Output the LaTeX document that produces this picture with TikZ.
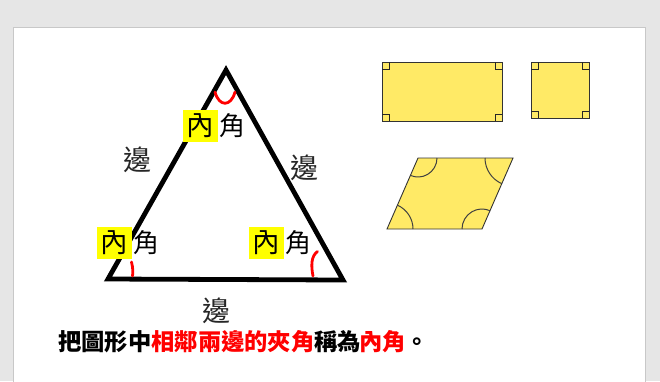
\documentclass[tikz,border=0pt]{standalone}
\usepackage{fontspec}
\newfontfamily\cjk{Noto Sans CJK TC}
\definecolor{pagegray}{RGB}{230,230,230}
\definecolor{pageline}{RGB}{200,200,200}
\definecolor{shapeyellow}{RGB}{255,234,102}
\definecolor{hlyellow}{RGB}{255,255,0}
\begin{document}
\begin{tikzpicture}[x=1pt,y=-1pt,
  hl/.style={fill=hlyellow,inner sep=0pt,minimum width=35pt,minimum height=32pt,font=\cjk\fontsize{27.5}{27.5}\selectfont},
  jiao/.style={anchor=west,inner sep=0pt,font=\cjk\fontsize{26}{26}\selectfont},
  bian/.style={inner sep=0pt,font=\cjk\fontsize{28}{28}\selectfont,text=black!85},
  tri/.style={line width=4.8pt,line join=miter},
  redarc/.style={red,line width=2.8pt,line cap=round},
  yshape/.style={fill=shapeyellow,draw=black!80,line width=0.9pt},
  rmark/.style={draw=black!85,line width=0.9pt},
  pararc/.style={draw=black!75,line width=1pt}]
\useasboundingbox (0,0) rectangle (660,381);
\fill[pagegray] (0,0) rectangle (660,381);
\filldraw[fill=white,draw=pageline,line width=1pt] (13.5,27.5) rectangle (645.5,390);
% triangle
\coordinate (A) at (226,70);
\coordinate (B) at (108,279);
\coordinate (C) at (343,280);
\draw[tri] (A) -- (B) -- (C) -- cycle;
% red angle marks
\draw[redarc] (215,92) .. controls (219,107) and (231,107) .. (235,92);
\draw[redarc] (131.5,262) .. controls (133,268) and (133,272) .. (132.5,276);
\draw[redarc] (317.5,251.5) .. controls (311,256) and (311,266) .. (313,276);
% labels
\node[hl] (h1) at (200.5,125.5) {內};
\node[jiao] (j1) at ([xshift=1.5pt]h1.east) {角};
\node[hl] (h2) at (114.5,242.5) {內};
\node[jiao] (j2) at ([xshift=1.5pt]h2.east) {角};
\node[hl] (h3) at (266.5,242.5) {內};
\node[jiao] (j3) at ([xshift=1.5pt]h3.east) {角};
\node[bian] (e1) at (137,160) {邊};
\node[bian] (e2) at (304,168) {邊};
\node[bian] (e3) at (216,311) {邊};
% caption
\node[anchor=west,inner sep=0pt,font=\cjk\bfseries\fontsize{23.3}{23.3}\selectfont] (cap) at (58,342)
  {把圖形中{\color{red}相鄰兩邊的夾角}稱為\kern-2pt{\color{red}內角}。};
% rectangle
\filldraw[yshape] (382,62) rectangle (502,121);
\draw[rmark] (382,69) -- (389,69) -- (389,62);
\draw[rmark] (502,69) -- (495,69) -- (495,62);
\draw[rmark] (382,114) -- (389,114) -- (389,121);
\draw[rmark] (502,114) -- (495,114) -- (495,121);
% square
\filldraw[yshape] (531,62) rectangle (589,118);
\draw[rmark] (531,69) -- (538,69) -- (538,62);
\draw[rmark] (589,69) -- (582,69) -- (582,62);
\draw[rmark] (531,111) -- (538,111) -- (538,118);
\draw[rmark] (589,111) -- (582,111) -- (582,118);
% parallelogram
\filldraw[yshape] (418,158) -- (513,158) -- (482,229) -- (387,229) -- cycle;
\draw[pararc] (418,158) ++(0:19) arc[start angle=0,end angle=113.6,radius=19];
\draw[pararc] (513,158) ++(113.6:28) arc[start angle=113.6,end angle=180,radius=28];
\draw[pararc] (387,229) ++(-66.4:26) arc[start angle=-66.4,end angle=0,radius=26];
\draw[pararc] (482,229) ++(180:20) arc[start angle=180,end angle=293.6,radius=20];
\end{tikzpicture}
\end{document}
